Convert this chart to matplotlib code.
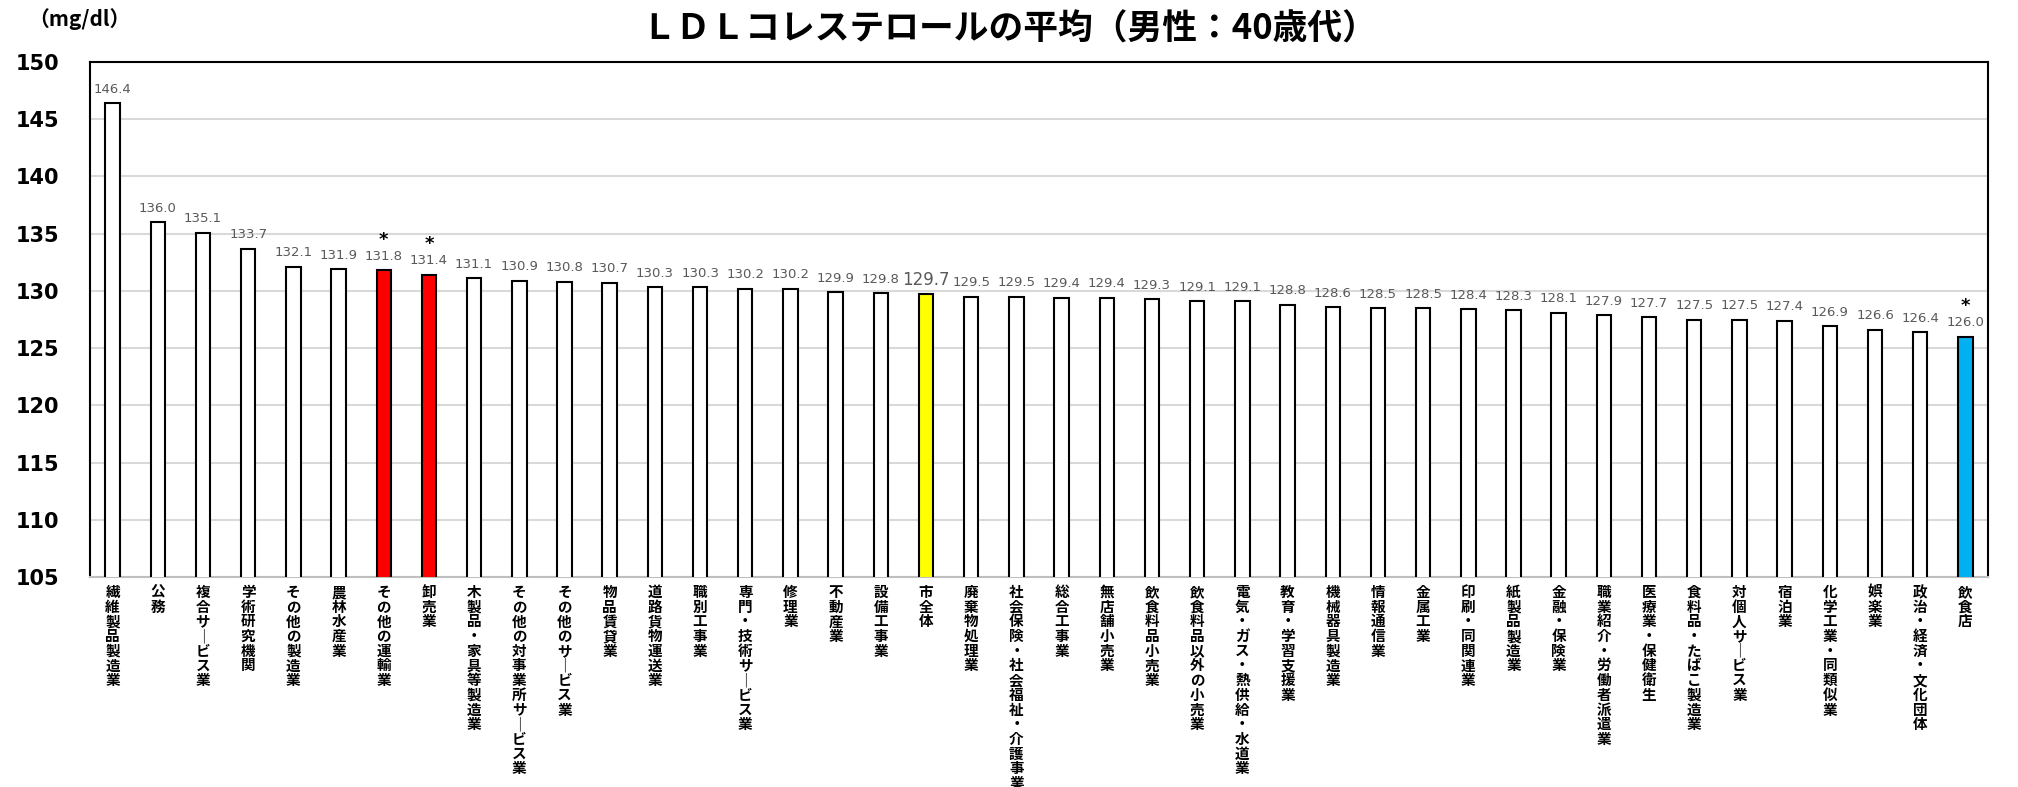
import matplotlib
matplotlib.use("Agg")
import matplotlib.pyplot as plt
import numpy as np

plt.rcParams['font.family'] = ['Noto Sans CJK JP', 'DejaVu Sans']

# データ
categories = [
    "繊維製品製造業", "公務", "複合サービス業", "学術研究機関", "その他の製造業",
    "農林水産業", "その他の運輸業", "卸売業", "木製品・家具等製造業",
    "その他の対事業所サービス業", "その他のサービス業", "物品賃貸業", "道路貨物運送業",
    "職別工事業", "専門・技術サービス業", "修理業", "不動産業", "設備工事業", "市全体",
    "廃棄物処理業", "社会保険・社会福祉・介護事業", "総合工事業", "無店舗小売業",
    "飲食料品小売業", "飲食料品以外の小売業", "電気・ガス・熱供給・水道業",
    "教育・学習支援業", "機械器具製造業", "情報通信業", "金属工業", "印刷・同関連業",
    "紙製品製造業", "金融・保険業", "職業紹介・労働者派遣業", "医療業・保健衛生",
    "食料品・たばこ製造業", "対個人サービス業", "宿泊業", "化学工業・同類似業",
    "娯楽業", "政治・経済・文化団体", "飲食店",
]
values = [
    146.4, 136.0, 135.1, 133.7, 132.1, 131.9, 131.8, 131.4, 131.1, 130.9,
    130.8, 130.7, 130.3, 130.3, 130.2, 130.2, 129.9, 129.8, 129.7, 129.5,
    129.5, 129.4, 129.4, 129.3, 129.1, 129.1, 128.8, 128.6, 128.5, 128.5,
    128.4, 128.3, 128.1, 127.9, 127.7, 127.5, 127.5, 127.4, 126.9, 126.6,
    126.4, 126.0,
]
high_sig = ["その他の運輸業", "卸売業"]
low_sig = ["飲食店"]
total_name = "市全体"

colors = []
for c in categories:
    if c in high_sig:
        colors.append("#ff0000")
    elif c in low_sig:
        colors.append("#00b0f0")
    elif c == total_name:
        colors.append("#ffff00")
    else:
        colors.append("white")

fig = plt.figure(figsize=(20.18, 7.87), dpi=100)
ax = fig.add_axes([90 / 2018, 1 - 577 / 787, 1898 / 2018, 515 / 787])

x = np.arange(len(categories))
ax.bar(x, values, width=0.32, color=colors, edgecolor="black", linewidth=1.5, zorder=3)
ax.set_ylim(105, 150)
ax.set_xlim(-0.5, len(categories) - 0.5)
ax.set_yticks(np.arange(105, 151, 5))
ax.grid(axis="y", color="#d9d9d9", linewidth=1.5, zorder=0)
ax.tick_params(axis="y", length=0, pad=22, labelsize=15)
for lab in ax.get_yticklabels():
    lab.set_fontweight("bold")
    lab.set_family(["DejaVu Sans"])

# 縦書きラベル（長音は縦線に置き換え）
vlabels = ["\n".join(c.replace("ー", "｜")) for c in categories]
ax.set_xticks(x)
ax.set_xticklabels(vlabels, fontsize=10.5, fontweight="bold", linespacing=0.9, va="top")
ax.tick_params(axis="x", length=0, pad=5)

for s in ["left", "top", "right"]:
    ax.spines[s].set_color("black")
    ax.spines[s].set_linewidth(1.5)
ax.spines["bottom"].set_color("#bfbfbf")
ax.spines["bottom"].set_linewidth(1.5)

# 値ラベル
for xi, v, c in zip(x, values, categories):
    big = c == total_name
    ax.annotate(f"{v:.1f}", (xi, v), xytext=(0, 10), textcoords="offset points",
                ha="center", va="center", fontsize=12 if big else 9.5,
                color="#595959", family=["DejaVu Sans"])
    if c in high_sig or c in low_sig:
        ax.annotate("*", (xi, v), xytext=(0, 22), textcoords="offset points",
                    ha="center", va="center", fontsize=13, fontweight="bold",
                    color="black", family=["DejaVu Sans"])

fig.text(0.5, 1 - 29 / 787, "ＬＤＬコレステロールの平均（男性：40歳代）",
         ha="center", va="center", fontsize=25, fontweight="bold")
fig.text(28 / 2018, 1 - 19 / 787, "（mg/dl）", ha="left", va="center",
         fontsize=15, fontweight="bold")

fig.savefig("out.png", dpi=100)
